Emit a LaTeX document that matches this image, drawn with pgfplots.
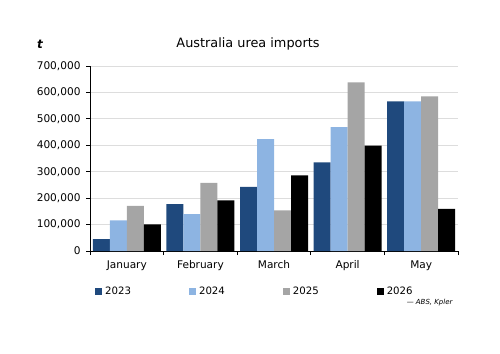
\documentclass[border=0pt]{standalone}
\usepackage{fontspec}
\setmainfont{DejaVu Sans}
\usepackage{pgfplots}
\pgfplotsset{compat=1.18}
\definecolor{c23}{HTML}{1F497D}
\definecolor{c24}{HTML}{8DB4E2}
\definecolor{c25}{HTML}{A5A5A5}
\definecolor{c26}{HTML}{000000}
\definecolor{gridc}{HTML}{DDDDDD}
\begin{document}
\begin{tikzpicture}[x=1bp,y=1bp]
\path[use as bounding box] (0,0) rectangle (500,353);
\node[font=\fontsize{12.9}{14}\selectfont] at (248,309) {Australia urea imports};
\node[font=\fontsize{12}{14}\selectfont\bfseries\itshape] at (40,309) {t};
\node[font=\fontsize{7}{8}\selectfont\itshape, anchor=east] at (456,50) {— ABS, Kpler};
\begin{axis}[
  at={(90bp,102bp)}, anchor=south west,
  scale only axis, width=368bp, height=185bp,
  xmin=-0.5, xmax=4.5, ymin=0, ymax=700000,
  ybar=0pt, bar width=17bp,
  axis x line=bottom, axis y line=left,
  axis line style={-, black, line width=0.9pt},
  xtick={-0.5,0.5,...,4.5}, x tick label as interval,
  xticklabels={January,February,March,April,May},
  ytick={0,100000,...,700000},
  scaled y ticks=false,
  /pgf/number format/.cd, fixed, 1000 sep={,}, assume math mode=true, /pgfplots/.cd,
  ymajorgrids, grid style={gridc, line width=0.8pt},
  tick align=outside, major tick length=4bp,
  tick style={black, line width=0.9pt},
  ticklabel style={font=\fontsize{10.6}{12}\selectfont},
  yticklabel style={xshift=-2bp},
  xticklabel style={yshift=-2bp},
  legend columns=4,
  legend style={at={(axis description cs:0,0)}, anchor=west, xshift=2bp, yshift=-40bp,
    draw=none, fill=none, font=\fontsize{10.2}{12}\selectfont,
    nodes={inner xsep=1.5bp},
    /tikz/every odd column/.append style={column sep=1.5bp},
    /tikz/every even column/.append style={column sep=56.5bp}},
  legend image code/.code={\fill[#1] (0bp,-3.5bp) rectangle (7bp,3.5bp);},
]
\addplot[fill=c23, draw=none] coordinates {(0,45000) (1,177000) (2,243000) (3,335000) (4,566000)};
\addplot[fill=c24, draw=none] coordinates {(0,116000) (1,140000) (2,423000) (3,469000) (4,566000)};
\addplot[fill=c25, draw=none] coordinates {(0,171000) (1,258000) (2,154000) (3,638000) (4,585000)};
\addplot[fill=c26, draw=none] coordinates {(0,101000) (1,192000) (2,286000) (3,399000) (4,159000)};
\legend{2023,2024,2025,2026}
\end{axis}
\end{tikzpicture}
\end{document}
